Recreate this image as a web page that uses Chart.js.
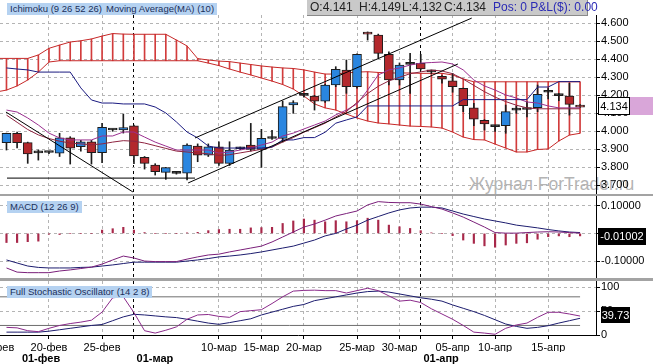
<!DOCTYPE html>
<html lang="ru">
<head>
<meta charset="utf-8">
<title>Ichimoku</title>
<script src="https://cdn.jsdelivr.net/npm/chart.js@4.4.1/dist/chart.umd.min.js"></script>
<style>
  body { margin: 0; background: #fff; font-family: Arial, "Liberation Sans", sans-serif; }
  #wrap { position: relative; width: 653px; height: 364px; overflow: hidden; background: #fff; }
  canvas { position: absolute; left: 0; }
  .tag { position: absolute; background: #b5d2f1; color: #1b2f5a; font-size: 9.5px; line-height: 12px; padding: 0 3px; white-space: nowrap; }
  .sep { position: absolute; left: 0; width: 653px; background: #a3a3a3; }
  #ohlc { position: absolute; left: 307px; top: 0; width: 280px; height: 15px; background: #c9c9c9; border-right: 1px solid #8a8a8a; border-bottom: 1px solid #8a8a8a; font-size: 12px; line-height: 15px; color: #222; }
  #ohlc span { position: absolute; top: 0; white-space: nowrap; }
  .box { position: absolute; font-size: 11px; text-align: center; white-space: nowrap; box-sizing: border-box; }
  #mark { position: absolute; left: 469px; top: 175px; font-size: 17.5px; line-height: 19px; color: #b4b4b4; white-space: nowrap; }
</style>
</head>
<body>
<div id="wrap">
  <div id="mark">Журнал ForTrader.ru</div>

  <canvas id="priceChart" width="653" height="195" style="top:0"></canvas>
  <canvas id="macdChart" width="653" height="82" style="top:196px"></canvas>
  <canvas id="stochChart" width="653" height="83" style="top:281px"></canvas>

  <div class="sep" style="top:194px;height:2px"></div>
  <div class="sep" style="top:278px;height:3px"></div>

  <div class="tag" style="left:7px;top:3px">Ichimoku (9 26 52 26)</div>
  <div class="tag" style="left:103px;top:3px">Moving Average(MA) (10)</div>
  <div class="tag" style="left:7px;top:201px">MACD (12 26 9)</div>
  <div class="tag" style="left:7px;top:286px">Full Stochastic Oscillator (14 2 8)</div>

  <div id="ohlc">
    <span id="oO" style="left:3px"></span>
    <span id="oH" style="left:52px"></span>
    <span id="oL" style="left:95px"></span>
    <span id="oC" style="left:137px"></span>
    <span style="left:186px;color:#2b2bb5">Pos: 0 P&amp;L($): 0.00</span>
  </div>

  <div class="box" style="left:630px;top:97px;width:23px;height:18px;background:#d9a6d9"></div>
  <div class="box" id="lastPrice" style="left:598px;top:97px;width:32px;height:18px;line-height:16px;background:#fff;border:1px solid #000;color:#000"></div>
  <div class="box" id="lastMacd" style="left:598px;top:228px;width:48px;height:17px;line-height:17px;background:#000;color:#fff"></div>
  <div class="box" id="lastStoch" style="left:601px;top:307px;width:29px;height:16px;line-height:16px;background:#000;color:#fff"></div>
</div>

<script>
// Daily candles (Sun-Fri sessions), index 0 = 16-фев, last index = current bar
const opens = [3.937, 3.989, 3.937, 3.882, 3.882, 3.878, 3.964, 3.914, 3.942, 3.881,
  4.010, 4.007, 4.030, 3.856, 3.813, 3.772, 3.768, 3.767, 3.918, 3.868,
  3.914, 3.822, 3.905, 3.924, 3.900, 3.961, 3.961, 4.146, 4.202, 4.196,
  4.168, 4.257, 4.340, 4.248, 4.550, 4.535, 4.428, 4.285, 4.373, 4.378,
  4.332, 4.306, 4.281, 4.239, 4.131, 4.061, 4.027, 4.031, 4.118, 4.121,
  4.131, 4.217, 4.198, 4.196, 4.141];
const highs = [3.990, 3.995, 3.940, 3.896, 3.888, 3.989, 3.970, 3.950, 3.950, 4.044,
  4.012, 4.096, 4.035, 3.860, 3.820, 3.800, 3.772, 3.930, 3.930, 3.930,
  3.942, 3.942, 3.912, 4.044, 4.011, 4.005, 4.168, 4.170, 4.210, 4.200,
  4.262, 4.359, 4.396, 4.430, 4.552, 4.540, 4.442, 4.380, 4.433, 4.428,
  4.340, 4.310, 4.322, 4.240, 4.156, 4.065, 4.030, 4.146, 4.140, 4.165,
  4.257, 4.240, 4.210, 4.267, 4.149];
const lows = [3.896, 3.907, 3.822, 3.840, 3.876, 3.860, 3.818, 3.890, 3.818, 3.826,
  4.000, 3.990, 3.820, 3.790, 3.757, 3.733, 3.762, 3.730, 3.831, 3.860,
  3.810, 3.810, 3.898, 3.890, 3.800, 3.955, 3.940, 4.100, 4.190, 4.118,
  4.160, 4.248, 4.211, 4.239, 4.507, 4.406, 4.257, 4.257, 4.211, 4.340,
  4.320, 4.267, 4.217, 4.109, 4.031, 4.007, 4.000, 3.989, 4.100, 4.080,
  4.109, 4.180, 4.170, 4.090, 4.132];
const closes = [3.989, 3.937, 3.874, 3.880, 3.884, 3.964, 3.906, 3.942, 3.881, 4.022,
  4.007, 4.020, 3.863, 3.822, 3.776, 3.798, 3.766, 3.924, 3.868, 3.914,
  3.822, 3.896, 3.903, 3.900, 3.961, 3.960, 4.137, 4.159, 4.200, 4.168,
  4.257, 4.344, 4.248, 4.428, 4.540, 4.433, 4.285, 4.368, 4.372, 4.346,
  4.330, 4.289, 4.248, 4.142, 4.068, 4.041, 4.026, 4.109, 4.119, 4.122,
  4.206, 4.218, 4.199, 4.150, 4.134];

// Ichimoku cloud edges, starting one bar before index 0
const cloudStart = -1;
const cloudA = [4.405, 4.405, 4.405, 4.405, 4.424, 4.461, 4.479, 4.496, 4.503, 4.513,
  4.529, 4.543, 4.540, 4.539, 4.539, 4.539, 4.539, 4.507, 4.474, 4.404,
  4.396, 4.390, 4.387, 4.379, 4.371, 4.363, 4.357, 4.352, 4.349, 4.341,
  4.329, 4.318, 4.318, 4.324, 4.329, 4.331, 4.327, 4.324, 4.324, 4.324,
  4.322, 4.322, 4.322, 4.313, 4.291, 4.275, 4.275, 4.275, 4.275, 4.275,
  4.275, 4.275, 4.275, 4.275, 4.275, 4.275];
const cloudB = [4.218, 4.229, 4.252, 4.285, 4.329, 4.385, 4.392, 4.392, 4.392, 4.392,
  4.392, 4.392, 4.392, 4.392, 4.392, 4.392, 4.392, 4.392, 4.392, 4.392,
  4.379, 4.365, 4.346, 4.329, 4.313, 4.296, 4.279, 4.260, 4.235, 4.196,
  4.152, 4.130, 4.118, 4.096, 4.074, 4.057, 4.046, 4.041, 4.035, 4.029,
  4.027, 4.024, 4.018, 3.996, 3.968, 3.954, 3.952, 3.929, 3.907, 3.885,
  3.885, 3.899, 3.902, 3.946, 3.979, 3.989];

// Ichimoku Kijun / Tenkan and MA(10)
const kijun = [4.352, 4.346, 4.341, 4.329, 4.329, 4.329, 4.329, 4.241, 4.174, 4.157,
  4.157, 4.152, 4.152, 4.152, 4.135, 4.102, 4.052, 3.996, 3.963, 3.918,
  3.907, 3.907, 3.907, 3.907, 3.907, 3.913, 3.952, 3.952, 3.965, 3.965,
  3.995, 4.045, 4.063, 4.080, 4.141, 4.141, 4.141, 4.141, 4.141, 4.141,
  4.141, 4.141, 4.141, 4.176, 4.176, 4.176, 4.176, 4.176, 4.176, 4.176,
  4.246, 4.246, 4.276, 4.276, 4.276];
const tenkan = [4.118, 4.107, 4.074, 4.035, 3.990, 3.963, 3.952, 3.952, 3.952, 3.974,
  3.974, 3.996, 3.996, 3.968, 3.940, 3.918, 3.896, 3.896, 3.896, 3.896,
  3.879, 3.885, 3.896, 3.907, 3.924, 3.940, 3.974, 3.990, 4.013, 4.035,
  4.057, 4.091, 4.118, 4.152, 4.229, 4.313, 4.341, 4.352, 4.368, 4.379,
  4.382, 4.385, 4.374, 4.341, 4.285, 4.252, 4.229, 4.202, 4.185, 4.163,
  4.157, 4.141, 4.130, 4.130, 4.130];
const ma10 = [4.090, 4.050, 4.010, 3.980, 3.960, 3.945, 3.935, 3.930, 3.925, 3.930,
  3.940, 3.948, 3.945, 3.935, 3.920, 3.905, 3.890, 3.885, 3.880, 3.875,
  3.865, 3.870, 3.880, 3.890, 3.900, 3.912, 3.940, 3.965, 3.995, 4.020,
  4.045, 4.080, 4.110, 4.160, 4.210, 4.250, 4.280, 4.300, 4.320, 4.330,
  4.340, 4.335, 4.320, 4.290, 4.255, 4.220, 4.190, 4.165, 4.145, 4.130,
  4.125, 4.125, 4.125, 4.125, 4.125];

// Hand-drawn trend lines: [startIndex, startPrice, endIndex, endPrice]
const trendLines = [
  [-0.05, 4.107, 11.9, 3.663],
  [0.05, 3.740, 17.75, 3.740],
  [17.1, 3.713, 42.5, 4.374],
  [17.75, 3.963, 43.8, 4.629]
];

// MACD (12 26 9)
const macdLine = [-0.125, -0.140, -0.142, -0.142, -0.142, -0.136, -0.132, -0.127, -0.122, -0.111,
  -0.096, -0.082, -0.089, -0.100, -0.102, -0.102, -0.102, -0.093, -0.085, -0.078,
  -0.075, -0.067, -0.060, -0.053, -0.046, -0.031, -0.013, 0.005, 0.023, 0.034,
  0.048, 0.063, 0.072, 0.081, 0.103, 0.115, 0.112, 0.111, 0.111, 0.106,
  0.097, 0.088, 0.074, 0.059, 0.041, 0.023, 0.003, 0.001, 0.001, 0.003,
  0.005, 0.006, 0.005, 0.003, 0.001];
const macdSignal = [-0.096, -0.107, -0.118, -0.123, -0.125, -0.125, -0.125, -0.123, -0.122, -0.118,
  -0.114, -0.109, -0.104, -0.104, -0.104, -0.104, -0.104, -0.100, -0.096, -0.091,
  -0.085, -0.082, -0.078, -0.073, -0.067, -0.060, -0.053, -0.046, -0.035, -0.024,
  -0.009, 0.000, 0.016, 0.030, 0.048, 0.061, 0.074, 0.085, 0.092, 0.095,
  0.095, 0.092, 0.081, 0.070, 0.061, 0.052, 0.045, 0.038, 0.030, 0.025,
  0.020, 0.014, 0.009, 0.005, 0.003];
const macdHist = [-0.033, -0.033, -0.030, -0.028, -0.003, -0.004, 0, 0, 0, 0.012,
  0.017, 0.022, 0.012, 0.003, 0, 0, 0, 0.002, 0.004, 0.010,
  0.014, 0.015, 0.015, 0.020, 0.021, 0.022, 0.036, 0.045, 0.052, 0.048,
  0.042, 0.046, 0.042, 0.046, 0.055, 0.048, 0.030, 0.024, 0.018, 0.010,
  0.002, 0, -0.008, -0.024, -0.036, -0.045, -0.050, -0.042, -0.036, -0.034,
  -0.021, -0.012, -0.009, -0.012, -0.009];
const macdLast = "-0.01002";

// Full Stochastic (14 2 8)
const stochK = [16, 15, 9, 7, 14, 20, 24, 27, 31, 48,
  78, 80, 47, 9, 4, 10, 17, 33, 42, 43,
  39, 37, 49, 51, 53, 66, 80, 92, 93.5, 94,
  93, 93, 88, 93, 98, 93, 82, 71, 73, 68,
  55, 44, 33, 20, 6, 4, 1.5, 14, 21, 25,
  37, 47.6, 47.6, 44, 39.7];
const stochD = [6, 6, 6, 6, 8, 11, 14, 17, 20, 22,
  30, 38, 43.4, 42, 40, 38, 36.5, 33, 29, 25,
  22.4, 26, 30, 34, 42, 48, 54, 60, 64, 72,
  76, 80, 84, 88, 91, 92, 90, 86, 82, 78,
  75, 71, 63, 56, 49, 41, 32, 23, 18, 14,
  16, 19.5, 25, 30, 35];
const stochLevels = [20, 80];
const stochLast = "39.73";

// Axis ticks
const dateTicks = [-1, 4, 9, 20, 24, 28, 33, 37, 42, 46, 51];
const dateLabels = ["15-фев", "20-фев", "25-фев", "10-мар", "15-мар", "20-мар", "25-мар", "30-мар", "05-апр", "10-апр", "15-апр"];
const monthStarts = [12, 39];
const monthTicks = [1.45, 12.25, 39.25];
const monthLabels = ["01-фев", "01-мар", "01-апр"];
const priceTicks = [3.7, 3.8, 3.9, 4.0, 4.1, 4.2, 4.3, 4.4, 4.5, 4.6];
const macdTicks = [-0.1, 0, 0.1];
const stochTicks = [0, 50, 100];

const FONT = "Arial, 'Liberation Sans', sans-serif";
const GRID = "#b4b4b4";
const X_MIN = -0.61, X_MAX = 55.5;
const gridTicks = dateTicks.concat(monthStarts).sort((a, b) => a - b);
const idx = closes.map((_, i) => i);
const last = closes.length - 1;

const pts = (arr, start = 0) => arr.map((v, i) => ({ x: i + start, y: v }));

function candleColor(i) {
  const d = closes[i] - opens[i];
  if (Math.abs(d) < 0.004) return "#1c1c1c";
  return d > 0 ? "#2a86e0" : "#b3282c";
}

function lineSet(data, color, order) {
  return { type: "line", data, borderColor: color, borderWidth: 1, pointRadius: 0, tension: 0, fill: false, order };
}

// no label overhang padding: every panel keeps its exact plot box
function noPad(axis) {
  axis.paddingTop = 0;
  axis.paddingBottom = 0;
  axis.paddingLeft = 0;
  axis.paddingRight = 0;
}

// shared x axis, grid lines at the date ticks, dashed black at month starts
function xScale(showLabels) {
  return {
    type: "linear", min: X_MIN, max: X_MAX, offset: false,
    afterBuildTicks: (axis) => { axis.ticks = gridTicks.map((v) => ({ value: v })); },
    afterFit: (axis) => { axis.height = showLabels ? 17 : 0; noPad(axis); },
    ticks: {
      display: showLabels, autoSkip: false, maxRotation: 0, minRotation: 0, padding: 2,
      color: "#000", font: { family: FONT, size: 11 },
      callback: (v) => { const k = dateTicks.indexOf(v); return k >= 0 ? dateLabels[k] : ""; }
    },
    grid: {
      offset: false, drawTicks: showLabels, tickLength: 4, tickColor: "#000",
      color: (c) => (c.tick && monthStarts.includes(c.tick.value) ? "#000" : GRID)
    },
    border: { display: showLabels, color: "#000", dash: [3, 3] }
  };
}

function yScale(min, max, values, fmt, gridColor) {
  return {
    position: "right", min, max, beginAtZero: false,
    afterBuildTicks: (axis) => { axis.ticks = values.map((v) => ({ value: v })); },
    afterFit: (axis) => { axis.width = 57; noPad(axis); },
    ticks: { color: "#000", padding: 1, font: { family: FONT, size: 11 }, callback: fmt },
    grid: { color: gridColor || GRID, tickColor: "#000", tickLength: 4 },
    border: { color: "#000", dash: [3, 3] }
  };
}

const common = {
  responsive: false, animation: false, events: [],
  plugins: { legend: { display: false }, tooltip: { enabled: false } }
};

// Price panel
const priceSets = [
  {
    type: "bar", order: 2, grouped: false, barThickness: 9, minBarLength: 2,
    data: idx.map((i) => ({ x: i, y: [opens[i], closes[i]] })),
    backgroundColor: idx.map(candleColor), borderColor: "#1c1c1c", borderWidth: 1, borderSkipped: false
  },
  {
    type: "bar", order: 3, grouped: false, barThickness: 1,
    data: idx.map((i) => ({ x: i, y: [lows[i], highs[i]] })),
    backgroundColor: "#1c1c1c"
  },
  {
    type: "bar", order: 6, grouped: false, barThickness: 1,
    data: cloudA.map((v, k) => ({ x: k + cloudStart, y: [v, cloudB[k]] })),
    backgroundColor: "#d23c3c"
  },
  lineSet(pts(cloudA, cloudStart), "#c62828", 5),
  lineSet(pts(cloudB, cloudStart), "#c62828", 5),
  lineSet(pts(kijun), "#1a1a80", 1),
  lineSet(pts(ma10), "#8e2440", 1),
  lineSet(pts(tenkan), "#9a2f8f", 1)
];
trendLines.forEach((t) => {
  priceSets.push(lineSet([{ x: t[0], y: t[1] }, { x: t[2], y: t[3] }], "#000", 0));
});

new Chart(document.getElementById("priceChart"), {
  type: "bar",
  data: { datasets: priceSets },
  options: Object.assign({}, common, {
    layout: { padding: { top: 15, bottom: 1, left: 0, right: 0 }, autoPadding: false },
    scales: {
      x: xScale(false),
      y: yScale(3.6517, 4.6461, priceTicks, (v) => v.toFixed(3))
    }
  })
});

// MACD panel
new Chart(document.getElementById("macdChart"), {
  type: "bar",
  data: {
    datasets: [
      {
        type: "bar", order: 3, grouped: false, barThickness: 1.5,
        data: idx.map((i) => ({ x: i, y: [0, macdHist[i]] })),
        backgroundColor: "#a8284a"
      },
      lineSet(pts(macdLine), "#7a1f7a", 1),
      lineSet(pts(macdSignal), "#1c1c6e", 2)
    ]
  },
  options: Object.assign({}, common, {
    layout: { padding: 0, autoPadding: false },
    scales: {
      x: xScale(false),
      y: yScale(-0.1613, 0.1353, macdTicks, (v) => v.toFixed(5))
    }
  })
});

// Stochastic panel with the date axis
const stochSets = [
  lineSet(pts(stochK), "#8a2a8a", 1),
  lineSet(pts(stochD), "#1c1c6e", 2)
];
stochLevels.forEach((lv) => {
  stochSets.push(lineSet([{ x: -1, y: lv }, { x: last, y: lv }], "#6e6e6e", 3));
});

new Chart(document.getElementById("stochChart"), {
  type: "line",
  data: { datasets: stochSets },
  options: Object.assign({}, common, {
    layout: { padding: 0, autoPadding: false },
    scales: {
      x: xScale(true),
      x2: {
        type: "linear", position: "bottom", weight: 1, min: X_MIN, max: X_MAX, offset: false,
        afterBuildTicks: (axis) => { axis.ticks = monthTicks.map((v) => ({ value: v })); },
        afterFit: (axis) => { axis.height = 12; noPad(axis); },
        grid: { display: false, drawTicks: false },
        border: { display: false },
        ticks: {
          autoSkip: false, maxRotation: 0, minRotation: 0, align: "start", padding: 0,
          color: "#000", font: { family: FONT, size: 11, weight: "bold" },
          callback: (v) => monthLabels[monthTicks.indexOf(v)]
        }
      },
      y: yScale(0, 113.2, stochTicks, (v) => String(v),
        (c) => (c.tick && c.tick.value === 0 ? "rgba(0,0,0,0)" : GRID))
    }
  })
});

// header texts and last-value boxes
document.getElementById("oO").textContent = "O:" + opens[last].toFixed(3);
document.getElementById("oH").textContent = "H:" + highs[last].toFixed(3);
document.getElementById("oL").textContent = "L:" + lows[last].toFixed(3);
document.getElementById("oC").textContent = "C:" + closes[last].toFixed(3);
document.getElementById("lastPrice").textContent = closes[last].toFixed(3);
document.getElementById("lastMacd").textContent = macdLast;
document.getElementById("lastStoch").textContent = stochLast;
</script>
</body>
</html>
